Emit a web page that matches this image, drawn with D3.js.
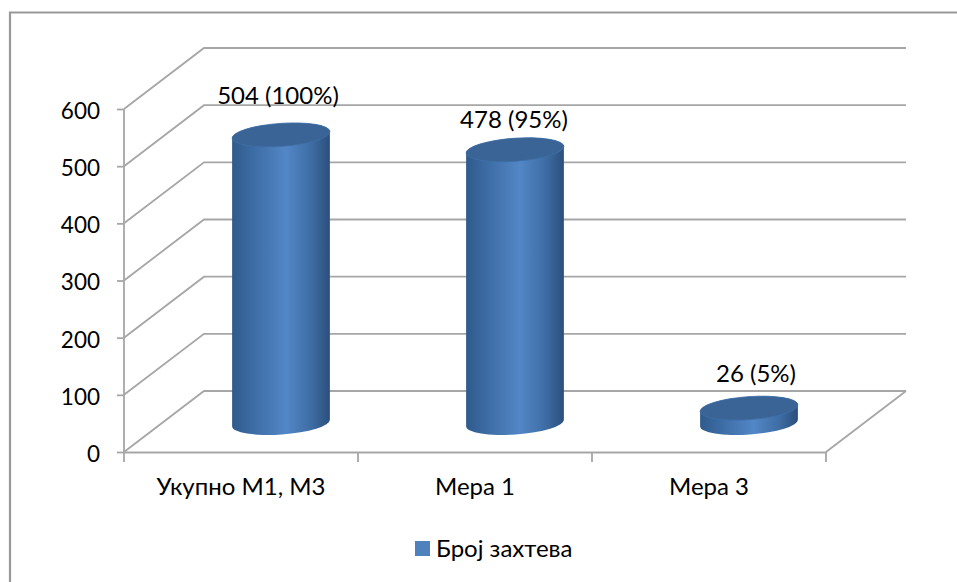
<!DOCTYPE html>
<html>
<head>
<meta charset="utf-8">
<script src="https://cdnjs.cloudflare.com/ajax/libs/d3/7.8.5/d3.min.js"></script>
<style>
    html, body { margin: 0; padding: 0; background: #fff; }
    text { font-family: Lato, "Open Sans", sans-serif; fill: #000; }
</style>
</head>
<body>
<div id="chart"></div>
<script>
const categories = ['Укупно М1, М3', 'Мера 1', 'Мера 3'];
const values = [504, 478, 26];
const dataLabels = ['504 (100%)', '478 (95%)', '26 (5%)'];
const yTicks = [0, 100, 200, 300, 400, 500, 600];
const seriesName = 'Број захтева';

const width = 957;
const height = 582;

// Front plane of the 3D box and how far back the wall sits
const depthX = 80;
const depthY = -61;
const axisColor = '#a6a6a6';

const svg = d3.select('#chart')
    .append('svg')
    .attr('width', width)
    .attr('height', height)
    .style('display', 'block');

// Only the top and left edges of the chart frame are in the picture
svg.append('path')
    .attr('d', `M10,${height}V12.5H${width}`)
    .attr('fill', 'none')
    .attr('stroke', '#999')
    .attr('stroke-width', 2.2);

const x = d3.scaleBand().domain(categories).range([124, 826]);
const y = d3.scaleLinear().domain([0, 600]).range([452, 109]);

// Gradient across the cylinder body
const defs = svg.append('defs');
const bodyGrad = defs.append('linearGradient').attr('id', 'bodyGrad');
[['0%', '#2f5a8c'], ['25%', '#3f6fa8'], ['55%', '#5286c6'], ['80%', '#3f6ea6'], ['100%', '#2b4f7c']]
    .forEach(s => bodyGrad.append('stop').attr('offset', s[0]).attr('stop-color', s[1]));

// Gridlines: up the side wall, then along the back wall
const grid = svg.append('g')
    .attr('fill', 'none')
    .attr('stroke', axisColor)
    .attr('stroke-width', 1.8);

grid.selectAll('path')
    .data(yTicks)
    .join('path')
    .attr('d', d => `M${x.range()[0]},${y(d)}L${x.range()[0] + depthX},${y(d) + depthY}H${x.range()[1] + depthX}`);

// Floor edge on the right
grid.append('path')
    .attr('d', `M${x.range()[1]},${y(0)}L${x.range()[1] + depthX},${y(0) + depthY}`);

// Axes
const yAxis = d3.axisLeft(y).tickValues(yTicks).tickSize(7).tickPadding(17);
const xAxis = d3.axisBottom(x).tickSize(0).tickPadding(26);

const gy = svg.append('g').attr('transform', `translate(${x.range()[0]},0)`).call(yAxis);
const gx = svg.append('g').attr('transform', `translate(0,${y(0)})`).call(xAxis);

[gy, gx].forEach(g => {
    g.attr('font-family', null);
    g.selectAll('path, line').attr('stroke', axisColor).attr('stroke-width', 1.8);
});
gy.selectAll('text').attr('font-size', 22.5).attr('dy', '0.42em');
gx.selectAll('text').attr('font-size', 24);
gy.select('.domain').attr('d', `M0,${y(0)}V${y(600)}`);

// Category separators on the x axis
gx.selectAll('.sep')
    .data([0, 1, 2, 3])
    .join('line')
    .attr('class', 'sep')
    .attr('x1', i => x.range()[0] + i * x.step())
    .attr('x2', i => x.range()[0] + i * x.step())
    .attr('y1', 0)
    .attr('y2', 10)
    .attr('stroke', axisColor)
    .attr('stroke-width', 1.8);

// Cylinders stand mid depth of the box, ellipses tilted with the view
const rx = 49;
const ry = 11.5;
const tilt = -4;
const baseY = y(0) + depthY / 2 + 1.5;
const cx = d => x(d.cat) + x.bandwidth() / 2 + depthX / 2;
const topY = d => y(d.value) + depthY / 2 + 1.5;

const rows = categories.map((cat, i) => ({ cat, value: values[i], label: dataLabels[i] }));

const bars = svg.append('g').selectAll('g').data(rows).join('g');

function cylinderBody(d) {
    const t = topY(d) - baseY;
    const dx = rx * Math.cos(tilt * Math.PI / 180);
    const dy = rx * Math.sin(tilt * Math.PI / 180);
    return `M${-dx},${-dy + t}A${rx},${ry} ${tilt} 0 1 ${dx},${dy + t}`
        + `V${dy}A${rx},${ry} ${tilt} 0 1 ${-dx},${-dy}Z`;
}

bars.attr('transform', d => `translate(${cx(d)},${baseY})`);

bars.append('path')
    .attr('d', cylinderBody)
    .attr('fill', 'url(#bodyGrad)');

bars.append('ellipse')
    .attr('rx', rx)
    .attr('ry', ry)
    .attr('transform', d => `translate(0,${topY(d) - baseY}) rotate(${tilt})`)
    .attr('fill', '#3a6496')
    .attr('stroke', '#3f6ea6')
    .attr('stroke-width', 0.8);

// Data labels were hand placed in the original, so each gets its own nudge
const labelDx = [-3, -1, 7];
const labelDy = [-31, -22, -26];

svg.append('g').selectAll('text')
    .data(rows)
    .join('text')
    .attr('x', (d, i) => cx(d) + labelDx[i])
    .attr('y', (d, i) => topY(d) + labelDy[i])
    .attr('text-anchor', 'middle')
    .attr('font-size', 24)
    .text(d => d.label);

// Legend
const legend = svg.append('g').attr('transform', 'translate(415,541)');
legend.append('rect').attr('width', 15).attr('height', 15).attr('fill', '#4f81bd');
legend.append('text')
    .attr('x', 21)
    .attr('y', 16)
    .attr('font-size', 24)
    .text(seriesName);
</script>
</body>
</html>
